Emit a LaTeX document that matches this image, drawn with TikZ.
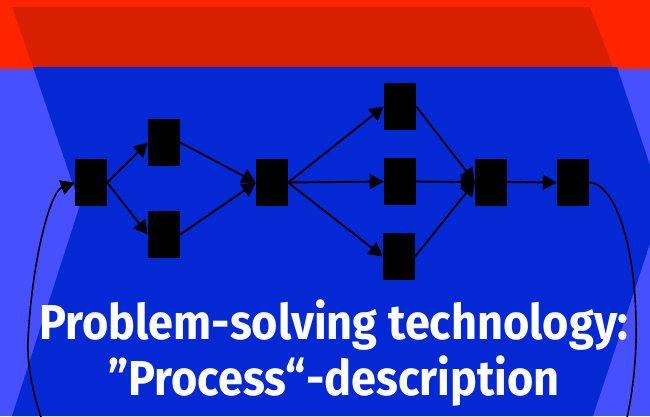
\documentclass[tikz,border=0pt]{standalone}
\usepackage{fontspec}
\usetikzlibrary{arrows.meta}
\newfontfamily\titlefont{Fira Sans}
\definecolor{redlight}{RGB}{255,36,0}
\definecolor{reddark}{RGB}{216,32,0}
\definecolor{bluelight}{RGB}{71,80,255}
\definecolor{bluedark}{RGB}{3,40,212}
\tikzset{
  task/.style={fill=black, draw=none, minimum width=32pt, minimum height=47pt, inner sep=0pt},
  flow/.style={line width=1.9pt, -{Triangle[length=14pt,width=15pt]}},
  loopline/.style={line width=1.6pt, -{Triangle[length=14pt,width=15pt]}},
  caption/.style={text=white, anchor=base, inner sep=0pt}
}
\newcommand\captiontext[1]{\titlefont\bfseries\fontsize{49}{56}\selectfont\scalebox{0.92}[1]{#1}}
\begin{document}
\begin{tikzpicture}[x=1pt, y=-1pt]
\useasboundingbox (0,0) rectangle (650,416);
% backdrop: red header band over a light blue field
\fill[redlight] (0,0) rectangle (650,69);
\fill[bluelight] (0,69) rectangle (650,416);
\fill[reddark] (12,7) -- (590,7) -- (613,67) -- (33,67) -- cycle;
\fill[bluedark] (33,67) -- (617,67) -- (663,204) -- (593,416) -- (12,416) -- (80,205) -- cycle;

% process steps
\node[task] (a) at (91,182.5) {};
\node[task] (b) at (164,142.5) {};
\node[task] (c) at (164,234.5) {};
\node[task] (d) at (272,182.5) {};
\node[task] (e) at (400,106.5) {};
\node[task] (f) at (400,181.5) {};
\node[task] (g) at (399,256.5) {};
\node[task] (h) at (491,182) {};
\node[task] (i) at (573,182.5) {};

\draw[flow] (a.east) -- (b.west);
\draw[flow] (a.east) -- (c.west);
\draw[flow] (b.east) -- (d.west);
\draw[flow] (c.east) -- (d.west);
\draw[flow] (d.east) -- (e.west);
\draw[flow] (d.east) -- (f.west);
\draw[flow] (d.east) -- (g.west);
\draw[flow] (e.east) -- (h.west);
\draw[flow] (f.east) -- (h.west);
\draw[flow] (g.east) -- (h.west);
\draw[flow] (h.east) -- (i.west);

% feedback loop from the last step back to the first
\coordinate (loopR) at (636,320);
\coordinate (loopB) at (330,620);
\coordinate (loopL) at (28,340);
\draw[loopline] (i.east) .. controls (610,182) and (634,230) .. (loopR)
  .. controls (638,400) and (620,640) .. (loopB)
  .. controls (100,620) and (24,420) .. (loopL)
  .. controls (32,260) and (50,192) .. (a.west);

% caption
\node[caption] (t1) at (334,339) {\captiontext{Problem-solving technology:}};
\node[caption] (t2) at (334,395) {\captiontext{”Process“-description}};
\end{tikzpicture}
\end{document}
